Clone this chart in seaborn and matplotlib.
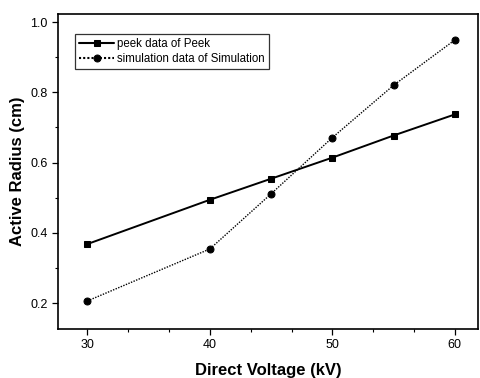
import matplotlib
matplotlib.use("Agg")
import matplotlib.pyplot as plt
import seaborn as sns
import pandas as pd
from matplotlib.ticker import MultipleLocator

voltage = [30, 40, 45, 50, 55, 60]
peek = [0.368, 0.494, 0.554, 0.614, 0.677, 0.737]
simulation = [0.206, 0.354, 0.511, 0.671, 0.820, 0.949]
labels = ["peek data of Peek", "simulation data of Simulation"]

df = pd.DataFrame({
    "V": voltage * 2,
    "R": peek + simulation,
    "series": [labels[0]] * len(voltage) + [labels[1]] * len(voltage),
})

sns.set_style("ticks")
plt.rcParams["font.family"] = ["Liberation Sans", "DejaVu Sans"]
plt.rcParams.update({"text.color": "black", "axes.labelcolor": "black",
                     "xtick.color": "black", "ytick.color": "black",
                     "axes.edgecolor": "black"})

fig = plt.figure(figsize=(4.8, 3.78), dpi=100)
ax = fig.add_axes([0.121, 0.1296, 0.875, 0.8334])

sns.lineplot(data=df, x="V", y="R", hue="series", style="series",
             palette=["black", "black"],
             markers={labels[0]: "s", labels[1]: "o"},
             dashes={labels[0]: "", labels[1]: (1, 1)},
             markersize=5, markeredgecolor="black", ax=ax, legend=True)
for line, lw in zip(ax.lines, [1.4, 1.0]):
    line.set_linewidth(lw)

ax.set_xlim(27.6, 61.9)
ax.set_ylim(0.126, 1.023)
ax.xaxis.set_major_locator(MultipleLocator(10))
ax.xaxis.set_minor_locator(MultipleLocator(10 / 3))
ax.yaxis.set_major_locator(MultipleLocator(0.2))
ax.yaxis.set_minor_locator(MultipleLocator(0.1))
ax.tick_params(which="major", direction="out", length=4, width=0.9, labelsize=9)
ax.tick_params(which="minor", direction="out", length=2.5, width=0.8)
ax.set_xticklabels([f"{int(t)}" for t in ax.get_xticks()])
ax.set_yticklabels([f"{t:.1f}" for t in ax.get_yticks()])
for s in ax.spines.values():
    s.set_visible(True)
    s.set_linewidth(1.2)
    s.set_color("black")

ax.set_xlabel("Direct Voltage (kV)", fontsize=12, fontweight="bold", labelpad=8)
ax.set_ylabel("Active Radius (cm)", fontsize=12, fontweight="bold", labelpad=4)

leg = ax.legend(loc="upper left", bbox_to_anchor=(0.041, 0.935), fontsize=8.3,
                frameon=True, fancybox=False, edgecolor="black",
                handlelength=3.0, borderpad=0.35, labelspacing=0.25,
                handletextpad=0.3, borderaxespad=0)
leg.get_frame().set_linewidth(0.9)

fig.savefig("out.png", dpi=100)
